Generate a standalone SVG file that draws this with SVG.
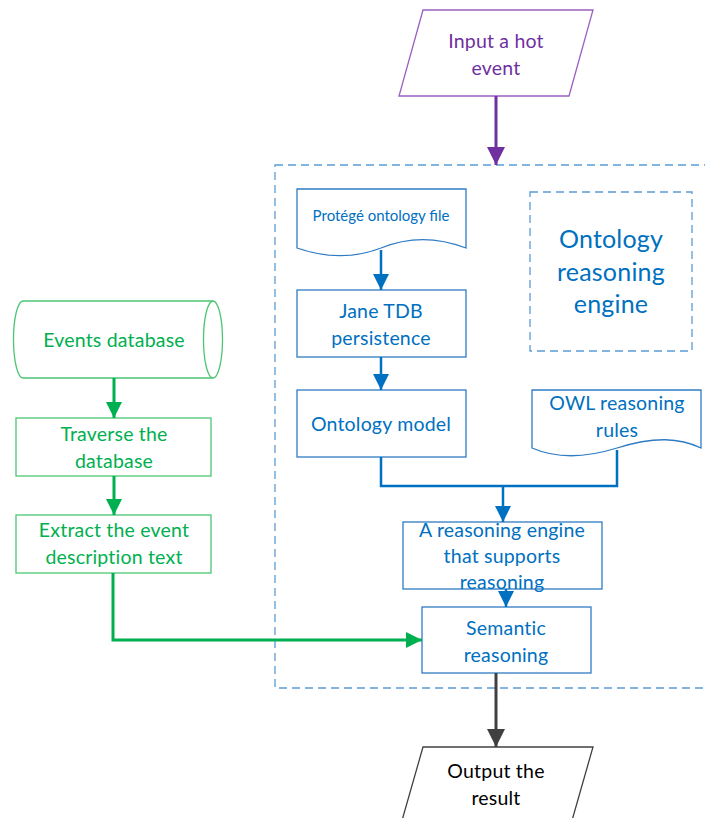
<svg xmlns="http://www.w3.org/2000/svg" width="705" height="818" viewBox="0 0 705 818">
<style>
  .t { font-family: "Lato", "Open Sans", "Liberation Sans", sans-serif; text-anchor: middle; letter-spacing: 0.2px; }
  .g { fill: #00B050; font-size: 19.5px; }
  .b { fill: #0070C0; font-size: 19.5px; }
  .p { fill: #7030A0; font-size: 19.5px; }
  .k { fill: #000000; font-size: 19.5px; }
  .gbox { fill: #ffffff; stroke: #4CC674; stroke-width: 1.3; }
  .bbox { fill: #ffffff; stroke: #2E7CC4; stroke-width: 1.3; }
  .dash { fill: none; stroke: #5B9BD5; stroke-width: 1.3; stroke-dasharray: 8 5; }
  .cg { fill: none; stroke: #00B050; stroke-width: 3; }
  .cb { fill: none; stroke: #0070C0; stroke-width: 2.5; }
  .cp { fill: none; stroke: #7030A0; stroke-width: 3; }
  .ck { fill: none; stroke: #404040; stroke-width: 3; }
</style>
<defs>
  <marker id="ag" markerUnits="userSpaceOnUse" markerWidth="18" markerHeight="16" refX="16" refY="8" orient="auto"><path d="M0,0 L16,8 L0,16 Z" fill="#00B050"/></marker>
  <marker id="ab" markerUnits="userSpaceOnUse" markerWidth="18" markerHeight="16" refX="16" refY="8" orient="auto"><path d="M0,0 L16,8 L0,16 Z" fill="#0070C0"/></marker>
  <marker id="ap" markerUnits="userSpaceOnUse" markerWidth="20" markerHeight="18" refX="18" refY="9" orient="auto"><path d="M0,0 L18,9 L0,18 Z" fill="#7030A0"/></marker>
  <marker id="ak" markerUnits="userSpaceOnUse" markerWidth="20" markerHeight="18" refX="18" refY="9" orient="auto"><path d="M0,0 L18,9 L0,18 Z" fill="#404040"/></marker>
</defs>

<rect id="container" class="dash" x="275" y="165" width="440" height="523"/>

<g id="input">
  <polygon points="423,10 593,10 569,96 399,96" fill="#fff" stroke="#9B5FC0" stroke-width="1.3"/>
  <text class="t p" x="496" y="48">Input a hot</text>
  <text class="t p" x="496" y="75">event</text>
</g>

<g id="protege">
  <path class="bbox" d="M297,189 L466,189 L466,248 C440,238 410,236 381,248 C350,260 320,256 297,248 Z"/>
  <text class="t b" style="font-size:15px;letter-spacing:0" x="381" y="221">Protégé ontology file</text>
</g>

<g id="engine-label">
  <rect class="dash" x="530" y="192" width="162" height="159"/>
  <text class="t b" style="font-size:25px" x="611" y="248">Ontology</text>
  <text class="t b" style="font-size:25px" x="611" y="281">reasoning</text>
  <text class="t b" style="font-size:25px" x="611" y="313">engine</text>
</g>

<g id="jane">
  <rect class="bbox" x="297" y="290" width="169" height="67"/>
  <text class="t b" x="381" y="318">Jane TDB</text>
  <text class="t b" x="381" y="345">persistence</text>
</g>

<g id="model">
  <rect class="bbox" x="297" y="390" width="169" height="67"/>
  <text class="t b" x="381" y="431">Ontology model</text>
</g>

<g id="owl">
  <path class="bbox" d="M532,390 L701,390 L701,448 C680,438 655,436 617,448 C585,458 555,458 532,448 Z"/>
  <text class="t b" x="617" y="410">OWL reasoning</text>
  <text class="t b" x="617" y="437">rules</text>
</g>

<g id="reasoner">
  <rect class="bbox" x="403" y="522" width="199" height="67"/>
  <text class="t b" x="502" y="537">A reasoning engine</text>
  <text class="t b" x="502" y="563">that supports</text>
  <text class="t b" x="502" y="589">reasoning</text>
</g>

<g id="semantic">
  <rect class="bbox" x="422" y="607" width="169" height="66"/>
  <text class="t b" x="506" y="635">Semantic</text>
  <text class="t b" x="506" y="662">reasoning</text>
</g>

<g id="output">
  <polygon points="423,747 593,747 565,845 395,845" fill="#fff" stroke="#404040" stroke-width="1.3"/>
  <text class="t k" x="496" y="778">Output the</text>
  <text class="t k" x="496" y="805">result</text>
</g>

<g id="eventsdb">
  <path class="gbox" d="M23,301 L213,301 A9.5,38.5 0 0 1 213,378 L23,378 A9.5,38.5 0 0 1 23,301 Z"/>
  <path class="gbox" fill="none" d="M213,301 A9.5,38.5 0 0 0 213,378"/>
  <text class="t g" x="114" y="347">Events database</text>
</g>

<g id="traverse">
  <rect class="gbox" x="16" y="418" width="195" height="58"/>
  <text class="t g" x="114" y="441">Traverse the</text>
  <text class="t g" x="114" y="468">database</text>
</g>

<g id="extract">
  <rect class="gbox" x="16" y="515" width="195" height="58"/>
  <text class="t g" x="114" y="537">Extract the event</text>
  <text class="t g" x="114" y="564">description text</text>
</g>

<g id="connectors">
  <path class="cp" d="M496,96 L496,165" marker-end="url(#ap)"/>
  <path class="cb" d="M381,250 L381,290" marker-end="url(#ab)"/>
  <path class="cb" d="M381,357 L381,390" marker-end="url(#ab)"/>
  <path class="cb" d="M381,457 L381,486 L617,486 L617,450"/>
  <path class="cb" d="M503,486 L503,522" marker-end="url(#ab)"/>
  <path class="cb" d="M506,589 L506,607" marker-end="url(#ab)"/>
  <path class="cg" d="M114,378 L114,418" marker-end="url(#ag)"/>
  <path class="cg" d="M114,476 L114,515" marker-end="url(#ag)"/>
  <path class="cg" d="M113,573 L113,640 L422,640" marker-end="url(#ag)"/>
  <path class="ck" d="M496,673 L496,747" marker-end="url(#ak)"/>
</g>
</svg>
